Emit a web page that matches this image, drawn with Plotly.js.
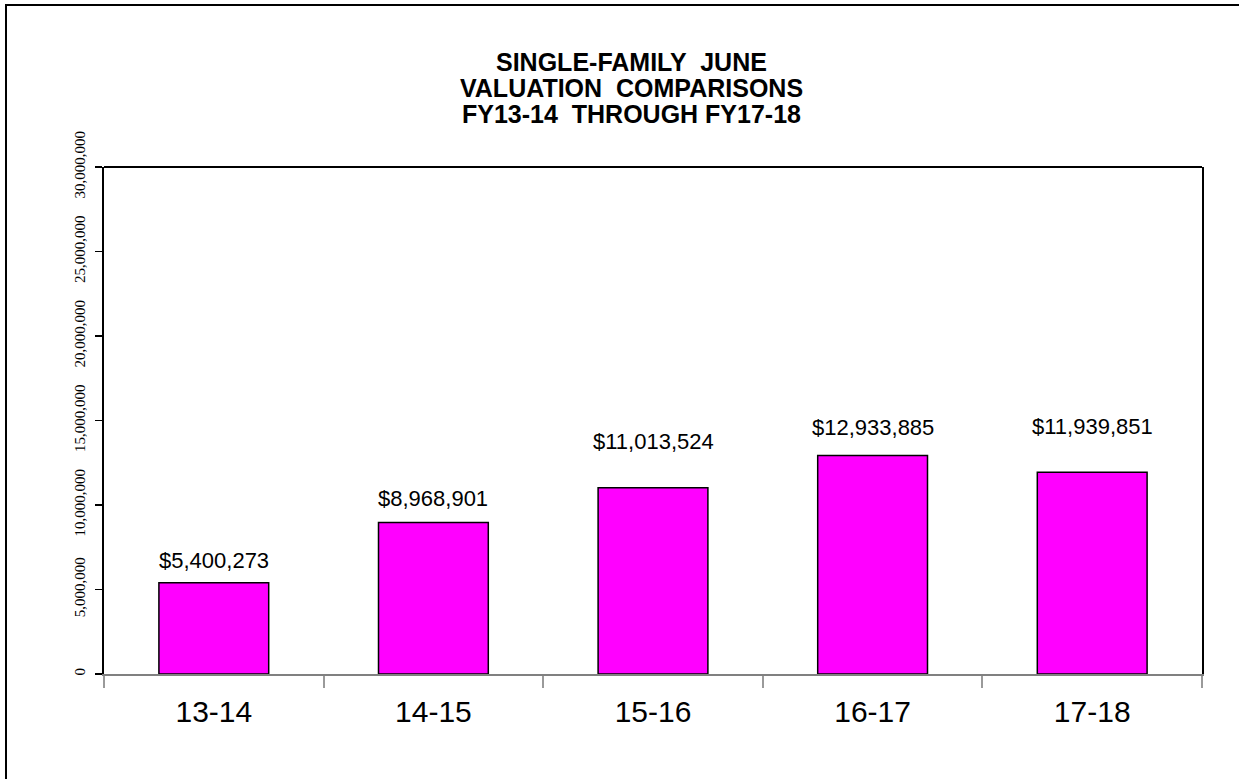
<!DOCTYPE html>
<html>
<head>
<meta charset="utf-8">
<script src="https://cdn.plot.ly/plotly-3.0.1.min.js"></script>
<style>
  html, body { margin: 0; padding: 0; background: #ffffff; }
  #chart { width: 1239px; height: 779px; }
</style>
</head>
<body>
<div id="chart"></div>
<script>
// ---- data ----
const categories = ["13-14", "14-15", "15-16", "16-17", "17-18"];
const valuations = [5400273, 8968901, 11013524, 12933885, 11939851];
const valueLabels = ["$5,400,273", "$8,968,901", "$11,013,524", "$12,933,885", "$11,939,851"];
const titleLines = ["SINGLE-FAMILY  JUNE", "VALUATION  COMPARISONS", "FY13-14  THROUGH FY17-18"];
const yTickValues = [0, 5000000, 10000000, 15000000, 20000000, 25000000, 30000000];
const yTickLabels = ["0", "5,000,000", "10,000,000", "15,000,000", "20,000,000", "25,000,000", "30,000,000"];

// ---- layout helpers (pixels) ----
const W = 1239, H = 779;
const M = { l: 104, r: 37, t: 167, b: 105 };
const plotW = W - M.l - M.r, plotH = H - M.t - M.b;
const px = x => (x - M.l) / plotW;
const py = y => (H - M.b - y) / plotH;

const sans = "Liberation Sans, Arial, sans-serif";
const serif = "Liberation Serif, Times New Roman, serif";

// label offsets above each bar top (pixels)
const labelShift = [22, 24, 46, 28, 46];

const annotations = [];
categories.forEach((c, i) => {
  annotations.push({
    x: c, y: valuations[i], xref: "x", yref: "y",
    text: valueLabels[i], showarrow: false,
    xanchor: "center", yanchor: "middle", yshift: labelShift[i],
    font: { family: sans, size: 22, color: "#000000" }
  });
});
const titleY = [62, 88, 114];
titleLines.forEach((t, i) => {
  annotations.push({
    x: px(631), y: py(titleY[i]), xref: "paper", yref: "paper",
    text: "<b>" + t + "</b>", showarrow: false,
    xanchor: "center", yanchor: "middle",
    font: { family: sans, size: 25, color: "#000000" }
  });
});

const trace = {
  type: "bar",
  x: categories,
  y: valuations,
  marker: { color: "#FF00FF", line: { color: "#000000", width: 1.5 } },
  hoverinfo: "x+y"
};

const layout = {
  width: W, height: H,
  margin: M,
  paper_bgcolor: "#ffffff",
  plot_bgcolor: "#ffffff",
  showlegend: false,
  bargap: 0.5,
  font: { family: sans, color: "#000000" },
  xaxis: {
    type: "category",
    range: [-0.5, 4.5],
    showline: true, linecolor: "#808080", linewidth: 2,
    ticks: "outside", tickson: "boundaries", ticklen: 12, tickwidth: 2, tickcolor: "#9a9a9a",
    tickfont: { family: sans, size: 30, color: "#000000" },
    ticklabelstandoff: 10,
    showgrid: false, zeroline: false, fixedrange: true
  },
  yaxis: {
    range: [0, 30000000],
    tickmode: "array", tickvals: yTickValues, ticktext: yTickLabels,
    tickangle: -90,
    showline: true, linecolor: "#000000", linewidth: 2, mirror: true,
    ticks: "outside", ticklen: 7, tickwidth: 1.5, tickcolor: "#000000",
    tickfont: { family: serif, size: 15, color: "#000000" },
    ticklabelstandoff: 4,
    showgrid: false, zeroline: false, fixedrange: true
  },
  shapes: [
    { type: "line", xref: "paper", yref: "paper", x0: 0, x1: 1, y0: 1, y1: 1,
      line: { color: "#000000", width: 2 } },
    { type: "rect", xref: "paper", yref: "paper",
      x0: px(6), x1: px(1250), y0: py(790), y1: py(5),
      line: { color: "#000000", width: 2 }, fillcolor: "rgba(0,0,0,0)" }
  ],
  annotations: annotations
};

Plotly.newPlot("chart", [trace], layout, { displayModeBar: false, staticPlot: true });
</script>
</body>
</html>
